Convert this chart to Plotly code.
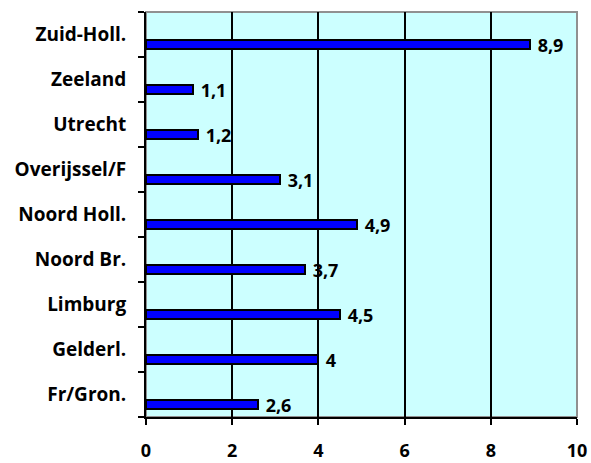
import plotly.graph_objects as go

categories = ["Fr/Gron.", "Gelderl.", "Limburg", "Noord Br.", "Noord Holl.",
              "Overijssel/F", "Utrecht", "Zeeland", "Zuid-Holl."]
values = [2.6, 4, 4.5, 3.7, 4.9, 3.1, 1.2, 1.1, 8.9]
labels = [f"{v:g}".replace(".", ",") for v in values]
x_ticks = [0, 2, 4, 6, 8, 10]

FONT = "Open Sans"

fig = go.Figure()
fig.add_trace(go.Bar(
    x=values, y=categories, orientation="h",
    width=0.2, offset=-0.32,
    marker=dict(color="#0000FF", line=dict(color="black", width=2)),
    text=labels, texttemplate=" %{text}", textposition="outside", cliponaxis=False,
    constraintext="none",
    textfont=dict(family=FONT, size=18, color="black", weight="bold"),
    hoverinfo="skip",
))

fig.add_shape(type="rect", xref="paper", yref="paper", x0=0, x1=1, y0=0, y1=1,
              line=dict(color="#909090", width=2), layer="below")

fig.update_layout(
    width=591, height=463,
    margin=dict(l=146, r=14, t=12, b=46, autoexpand=False),
    paper_bgcolor="white", plot_bgcolor="#CCFFFF",
    showlegend=False,
    font=dict(family=FONT, color="black"),
    bargap=0,
)
fig.update_xaxes(
    range=[0, 10], tickvals=x_ticks, ticktext=[str(t) for t in x_ticks],
    showgrid=True, gridcolor="black", gridwidth=2,
    showline=True, linecolor="black", linewidth=2,
    ticks="outside", ticklen=6, tickwidth=2, tickcolor="black",
    tickfont=dict(family=FONT, size=18, color="black", weight="bold"),
    ticklabelstandoff=10, zeroline=False, automargin=False,
)
fig.update_yaxes(
    type="category", categoryorder="array", categoryarray=categories,
    showgrid=False, showline=True, linecolor="black", linewidth=2,
    ticks="outside", ticklen=6, tickwidth=2, tickcolor="black",
    tickson="boundaries", automargin=False,
    tickfont=dict(family=FONT, size=19, color="black", weight="bold"),
    ticklabelstandoff=14,
)

fig.write_html("out.html", config={"displayModeBar": False},
               post_script="document.body.style.margin='0';")
